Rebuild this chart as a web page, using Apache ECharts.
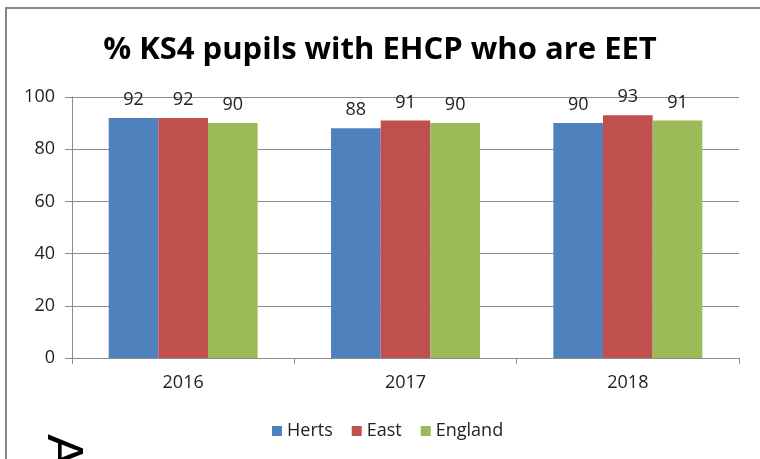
<!DOCTYPE html>
<html>
<head>
<meta charset="utf-8">
<script src="https://cdn.jsdelivr.net/npm/echarts@6/dist/echarts.min.js"></script>
<style>
  html, body { margin: 0; padding: 0; background: #fff; }
  #chart { width: 760px; height: 459px; }
</style>
</head>
<body>
<div id="chart"></div>
<script>
// data
var years = ['2016', '2017', '2018'];
var herts = [92, 88, 90];
var east = [92, 91, 93];
var england = [90, 90, 91];
var yTicks = [0, 20, 40, 60, 80, 100];

var font = '"Open Sans", "Noto Sans", sans-serif';

var myChart = echarts.init(document.getElementById('chart'));

function makeSeries(name, data, color) {
  return {
    type: 'bar',
    name: name,
    data: data,
    barGap: '0%',
    barCategoryGap: '33%',
    itemStyle: { color: color },
    label: {
      show: true,
      position: 'top',
      distance: 9,
      color: '#222',
      fontSize: 18,
      fontFamily: font
    }
  };
}

var option = {
  animation: false,
  color: ['#4F81BD', '#C0504D', '#9BBB59'],
  title: {
    text: '% KS4 pupils with EHCP who are EET',
    left: 'center',
    top: 35,
    padding: 0,
    textStyle: {
      fontSize: 31,
      fontWeight: 'bold',
      color: '#000',
      fontFamily: font
    }
  },
  grid: {
    left: 72,
    right: 21,
    top: 97,
    bottom: 101
  },
  legend: {
    top: 422,
    left: 272,
    padding: 0,
    itemWidth: 10,
    itemHeight: 10,
    itemGap: 19,
    icon: 'rect',
    textStyle: { fontSize: 18, color: '#222', fontFamily: font },
    data: ['Herts', 'East', 'England']
  },
  xAxis: {
    type: 'category',
    data: years,
    boundaryGap: true,
    axisLine: { lineStyle: { color: '#8c8c8c' } },
    axisTick: { show: true, length: 6, lineStyle: { color: '#8c8c8c' } },
    axisLabel: { fontSize: 18, color: '#222', margin: 16, fontFamily: font }
  },
  yAxis: {
    type: 'value',
    min: yTicks[0],
    max: yTicks[yTicks.length - 1],
    interval: 20,
    axisLine: { show: true, lineStyle: { color: '#8c8c8c' } },
    axisTick: { show: true, length: 7, inside: false, lineStyle: { color: '#8c8c8c' } },
    splitLine: { lineStyle: { color: '#8c8c8c' } },
    axisLabel: { fontSize: 18, color: '#222', margin: 17, fontFamily: font }
  },
  graphic: [
    {
      type: 'rect',
      shape: { x: 6, y: 8, width: 800, height: 500 },
      style: { fill: 'none', stroke: '#868686', lineWidth: 2 },
      z: 10
    },
    {
      type: 'text',
      x: 62,
      y: 451,
      rotation: -Math.PI / 2,
      style: {
        text: 'A',
        fontSize: 50,
        fill: '#000',
        align: 'center',
        verticalAlign: 'middle',
        fontFamily: '"Liberation Sans", sans-serif'
      },
      z: 10
    }
  ],
  series: [
    makeSeries('Herts', herts, '#4F81BD'),
    makeSeries('East', east, '#C0504D'),
    makeSeries('England', england, '#9BBB59')
  ]
};

myChart.setOption(option);
</script>
</body>
</html>
